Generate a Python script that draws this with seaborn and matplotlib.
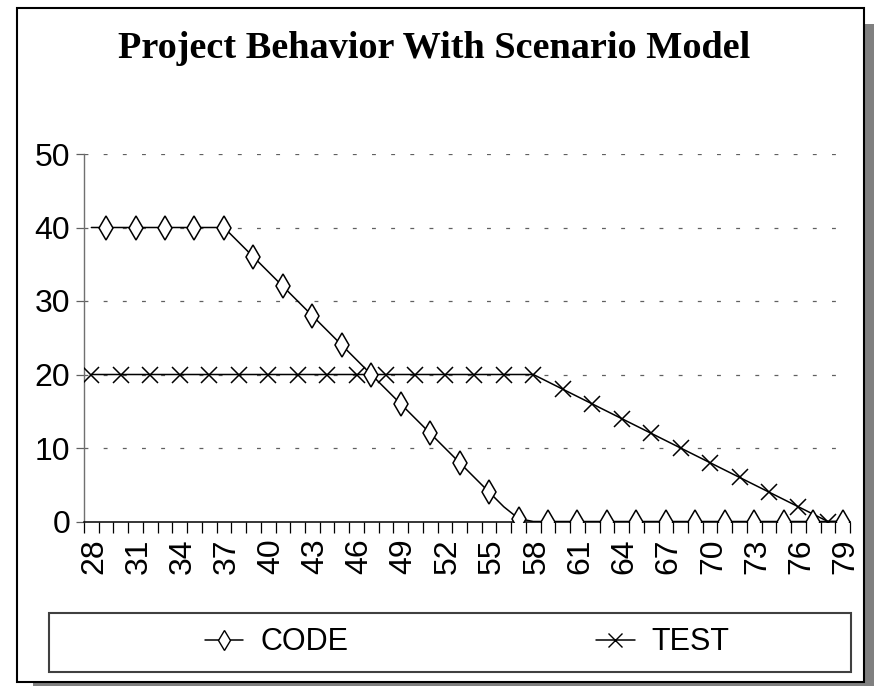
import numpy as np
import matplotlib
matplotlib.use("Agg")
import matplotlib.pyplot as plt
import matplotlib.transforms as mtransforms
from matplotlib.patches import Rectangle
from matplotlib.lines import Line2D
import seaborn as sns
import pandas as pd

# ---- data ----
weeks = [28, 29, 30, 31, 32, 33, 34, 35, 36, 37, 38, 39, 40, 41, 42, 43, 44,
         45, 46, 47, 48, 49, 50, 51, 52, 53, 54, 55, 56, 57, 58, 59, 60, 61,
         62, 63, 64, 65, 66, 67, 68, 69, 70, 71, 72, 73, 74, 75, 76, 77, 78, 79]

code = [40, 40, 40, 40, 40, 40, 40, 40, 40, 40, 38, 36, 34, 32, 30, 28, 26,
        24, 22, 20, 18, 16, 14, 12, 10, 8, 6, 4, 2, 0.4, 0, 0, 0, 0,
        0, 0, 0, 0, 0, 0, 0, 0, 0, 0, 0, 0, 0, 0, 0, 0, 0, 0]

test = [20, 20, 20, 20, 20, 20, 20, 20, 20, 20, 20, 20, 20, 20, 20, 20, 20,
        20, 20, 20, 20, 20, 20, 20, 20, 20, 20, 20, 20, 20, 20, 19, 18, 17,
        16, 15, 14, 13, 12, 11, 10, 9, 8, 7, 6, 5, 4, 3, 2, 1, 0, 0]

tick_labels = [28, 31, 34, 37, 40, 43, 46, 49, 52, 55, 58, 61, 64, 67, 70, 73, 76, 79]

df = pd.DataFrame({"week": weeks, "CODE": code, "TEST": test})

# ---- style ----
sns.set_style("white")
plt.rcParams["font.family"] = ["Liberation Sans", "DejaVu Sans"]
plt.rcParams["lines.scale_dashes"] = False
plt.rcParams["text.color"] = "black"

fig = plt.figure(figsize=(8.74, 6.86), dpi=100)
fig.patch.set_facecolor("white")

# outer frame with drop shadow
W, H = 874, 686
shadow = Rectangle((33 / W, (H - 698) / H), 847 / W, 674 / H,
                   transform=fig.transFigure, facecolor="#808080",
                   edgecolor="none", zorder=-3)
frame = Rectangle((17 / W, (H - 682) / H), 847 / W, 674 / H,
                  transform=fig.transFigure, facecolor="white",
                  edgecolor="black", linewidth=1.5, zorder=-2)
fig.add_artist(shadow)
fig.add_artist(frame)

ax = fig.add_axes([84 / W, (H - 521.5) / H, (850 - 84) / W, (521.5 - 154) / H])
ax.set_facecolor("none")

sns.lineplot(data=df, x="week", y="CODE", ax=ax, color="black", linewidth=1.1,
             marker="d", markersize=12, markerfacecolor="white",
             markeredgecolor="black", markeredgewidth=1.1, markevery=(1, 2),
             zorder=4)
sns.lineplot(data=df, x="week", y="TEST", ax=ax, color="black", linewidth=1.1,
             marker="x", markersize=11, markeredgecolor="black",
             markeredgewidth=1.1, markevery=(0, 2), zorder=3)

ax.set_xlim(27.5, 79.5)
ax.set_ylim(0, 50)
ax.set_xlabel("")
ax.set_ylabel("")

# y axis
ax.set_yticks([0, 10, 20, 30, 40, 50])
ax.tick_params(axis="y", direction="out", length=6, width=0.9, color="#606060",
               pad=4, labelsize=23, labelcolor="black", left=True)
for y in [10, 20, 30, 40, 50]:
    ax.axhline(y, color="#606060", linewidth=0.9, linestyle=(0, (2.8, 11)),
               zorder=1)

# x axis: labels at categories, ticks between categories
ax.set_xticks(tick_labels)
ax.set_xticklabels([str(t) for t in tick_labels], rotation=90)
ax.set_xticks(np.arange(27.5, 80, 1), minor=True)
ax.tick_params(axis="x", which="major", length=0, pad=12, labelsize=23,
               labelcolor="black")
ax.tick_params(axis="x", which="minor", direction="out", length=8, width=0.9,
               color="black", bottom=True)
offset = mtransforms.ScaledTranslation(3 / 100, 0, fig.dpi_scale_trans)
for lab in ax.get_xticklabels():
    lab.set_transform(lab.get_transform() + offset)

for s in ["top", "right"]:
    ax.spines[s].set_visible(False)
ax.spines["left"].set_color("#707070")
ax.spines["left"].set_linewidth(1.0)
ax.spines["bottom"].set_color("black")
ax.spines["bottom"].set_linewidth(1.1)

# title
fig.text(0.5 - 3 / W, 1 - 48 / H, "Project Behavior With Scenario Model",
         ha="center", va="center", fontsize=27.5, fontweight="bold",
         family="Liberation Serif", color="black")

# legend: box drawn separately, entries centred inside it
legend_box = Rectangle((49 / W, (H - 672) / H), 802 / W, 59 / H,
                       transform=fig.transFigure, facecolor="white",
                       edgecolor="#404040", linewidth=1.5, zorder=4)
fig.add_artist(legend_box)

handles = [
    Line2D([], [], color="black", linewidth=1.1, marker="d", markersize=10,
           markerfacecolor="white", markeredgecolor="black", markeredgewidth=1),
    Line2D([], [], color="black", linewidth=1.1, marker="x", markersize=10,
           markeredgecolor="black", markeredgewidth=1),
]
leg = fig.legend(handles, ["CODE", "TEST"], loc="center", ncol=2,
                 bbox_to_anchor=(467 / W, (H - 642.5) / H),
                 borderaxespad=0, fontsize=22, frameon=False,
                 handlelength=1.27, handletextpad=0.55, columnspacing=8.1)
leg.set_zorder(5)

fig.savefig("out.png", dpi=100)
